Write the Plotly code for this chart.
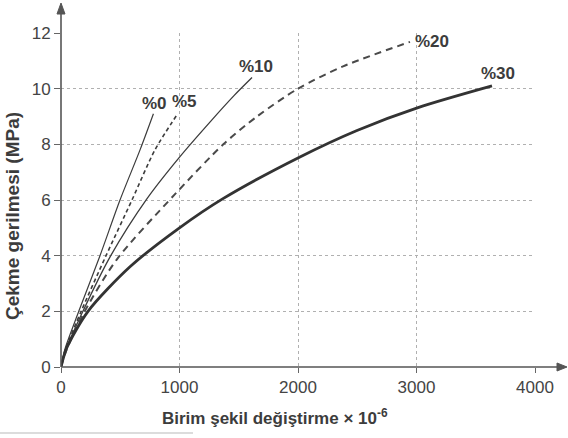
import plotly.graph_objects as go

# Data (strain x10^-6, stress MPa)
x_p0 = [0, 30, 150, 329, 498, 667, 780]
y_p0 = [0, 0.6, 2.0, 4.0, 6.0, 7.8, 9.1]

x_p5 = [0, 35, 170, 380, 599, 793, 985]
y_p5 = [0, 0.6, 2.0, 4.0, 6.0, 7.8, 9.1]

x_p10 = [0, 40, 185, 420, 726, 1004, 1257, 1460, 1612]
y_p10 = [0, 0.6, 2.0, 4.0, 6.05, 7.56, 8.8, 9.75, 10.4]

x_p20 = [0, 45, 200, 472, 960, 1370, 1654, 2000, 2380, 2945]
y_p20 = [0, 0.6, 2.0, 3.87, 6.2, 8.0, 9.0, 10.0, 10.8, 11.68]

x_p30 = [0, 50, 228, 582, 1000, 1367, 2008, 2498, 3013, 3637]
y_p30 = [0, 0.7, 2.0, 3.6, 5.0, 6.05, 7.53, 8.5, 9.32, 10.1]

labels = ["%0", "%5", "%10", "%20", "%30"]
label_x = [793, 1046, 1646, 3131, 3688]
label_y = [9.46, 9.53, 10.79, 11.68, 10.54]

x_ticks = [0, 1000, 2000, 3000, 4000]
y_ticks = [0, 2, 4, 6, 8, 10, 12]

ink = "#3c3c3c"
font_family = "Liberation Sans, Arial, sans-serif"

# plot-area geometry in pixels (used only for decorations)
L, R, T, B = 61, 535, 33, 367
W, H = R - L, B - T


def px(p):
    return (p - L) / W


def py(p):
    return (B - p) / H


fig = go.Figure()
series = [
    (x_p0, y_p0, dict(color=ink, width=1.2, dash="solid")),
    (x_p5, y_p5, dict(color=ink, width=1.6, dash="4px,3px")),
    (x_p10, y_p10, dict(color=ink, width=1.3, dash="solid")),
    (x_p20, y_p20, dict(color="#4a4a4a", width=2.0, dash="7px,5px")),
    (x_p30, y_p30, dict(color="#333333", width=2.8, dash="solid")),
]
for xs, ys, ln in series:
    fig.add_trace(go.Scatter(x=xs, y=ys, mode="lines",
                             line=dict(shape="spline", smoothing=0.8, **ln),
                             showlegend=False, hoverinfo="skip"))

for t, lx, ly in zip(labels, label_x, label_y):
    fig.add_annotation(x=lx, y=ly, text="<b>%s</b>" % t, showarrow=False,
                       font=dict(family=font_family, size=17, color=ink),
                       xanchor="center", yanchor="middle")

# axis titles
fig.add_annotation(xref="paper", yref="paper", x=px(275), y=py(417),
                   text="<b>Birim şekil değiştirme × 10<sup>-6</sup></b>",
                   showarrow=False, xanchor="center", yanchor="middle",
                   font=dict(family=font_family, size=17, color=ink))
fig.add_annotation(xref="paper", yref="paper", x=px(13), y=py(216),
                   text="<b>Çekme gerilmesi (MPa)</b>", textangle=-90,
                   showarrow=False, xanchor="center", yanchor="middle",
                   font=dict(family=font_family, size=19, color=ink))

# axis lines with arrow heads
axcol = "#555555"
fig.add_shape(type="line", xref="paper", yref="paper",
              x0=0, y0=0, x1=px(560), y1=0, line=dict(color=axcol, width=1.6))
fig.add_shape(type="line", xref="paper", yref="paper",
              x0=0, y0=0, x1=0, y1=py(10), line=dict(color=axcol, width=1.6))
fig.add_shape(type="path", xref="paper", yref="paper",
              path="M %f,%f L %f,%f L %f,%f Z" % (px(557), py(363), px(567), py(367), px(557), py(371)),
              fillcolor=axcol, line=dict(color=axcol, width=1))
fig.add_shape(type="path", xref="paper", yref="paper",
              path="M %f,%f L %f,%f L %f,%f Z" % (px(57), py(14), px(61), py(3), px(65), py(14)),
              fillcolor=axcol, line=dict(color=axcol, width=1))

# faint scan line at bottom
fig.add_shape(type="line", xref="paper", yref="paper",
              x0=px(0), x1=px(193), y0=py(433), y1=py(433),
              line=dict(color="#d0d0d0", width=1.5))

fig.update_layout(
    width=568, height=438,
    margin=dict(l=L, r=568 - R, t=T, b=438 - B),
    paper_bgcolor="white", plot_bgcolor="white",
    font=dict(family=font_family, color=ink),
    xaxis=dict(range=[0, 4000], tickvals=x_ticks, ticks="outside", ticklen=5,
               tickcolor="#666", showgrid=True, gridcolor="#b0b0b0",
               griddash="dot", gridwidth=1, zeroline=False, showline=False,
               tickfont=dict(size=17, color="#444")),
    yaxis=dict(range=[0, 12], tickvals=y_ticks, ticks="outside", ticklen=6,
               tickcolor="#666", showgrid=True, gridcolor="#b0b0b0",
               griddash="dot", gridwidth=1, zeroline=False, showline=False,
               tickfont=dict(size=17, color="#444")),
)

fig.write_html("out.html")
